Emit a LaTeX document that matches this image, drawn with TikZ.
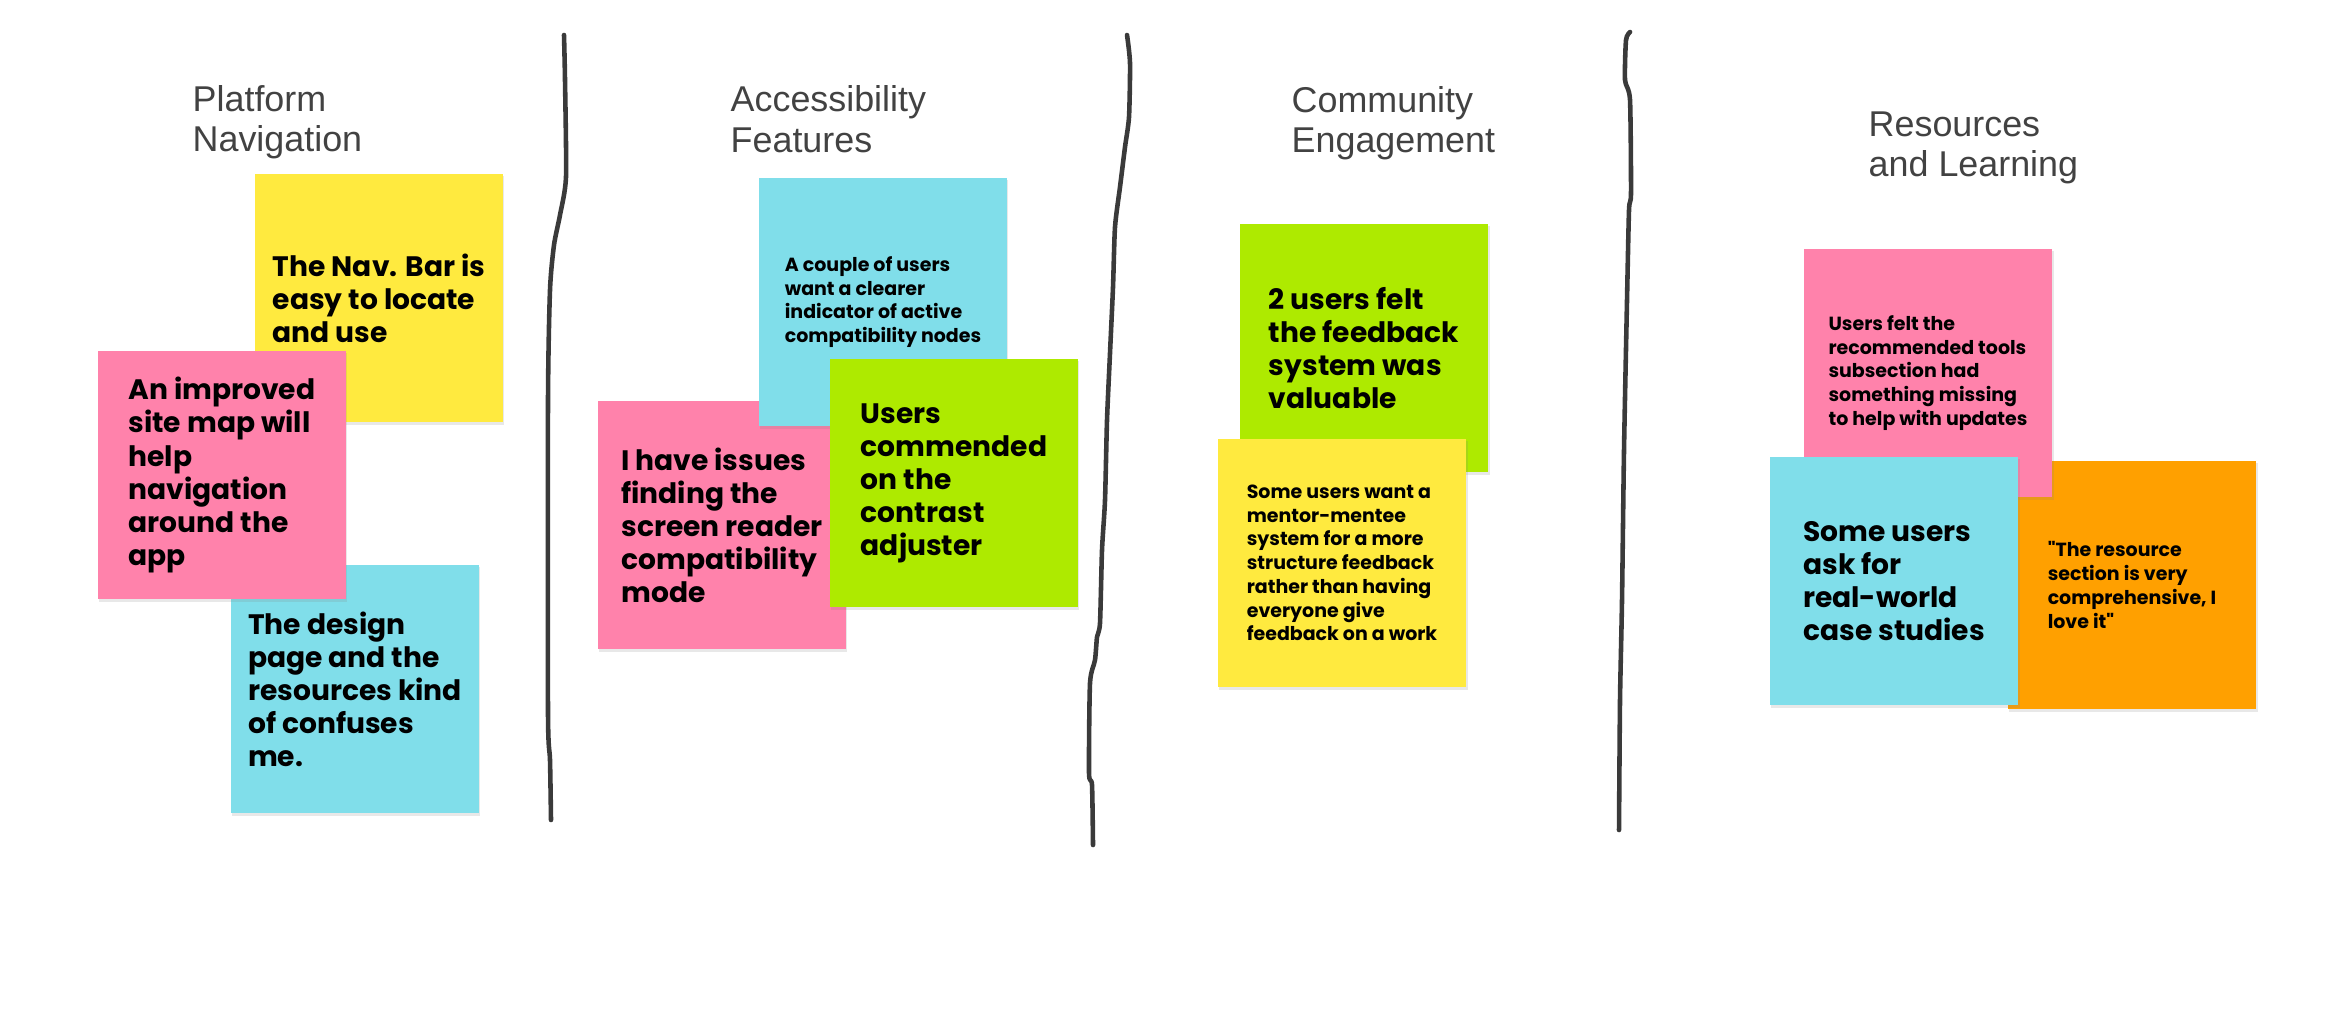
\documentclass[tikz,border=0pt]{standalone}
\usepackage{fontspec}
\setmainfont{Liberation Sans}
\newfontfamily\notefont{Poppins}
\usetikzlibrary{shadows}
\definecolor{noteyellow}{HTML}{FFEA3F}
\definecolor{notepink}{HTML}{FF82AB}
\definecolor{notecyan}{HTML}{80DEEA}
\definecolor{notegreen}{HTML}{AEEA00}
\definecolor{noteorange}{HTML}{FFA000}
\definecolor{titlegray}{HTML}{424242}
\definecolor{pengray}{HTML}{3A3A3A}
\tikzset{
  note/.style={minimum width=2.48cm,minimum height=2.48cm,inner sep=0pt,
    align=left,text=black,
    drop shadow={opacity=0.18,shadow xshift=0.4pt,shadow yshift=-0.7pt}},
  bigtext/.style={font={\notefont\bfseries\fontsize{8}{9.4}\selectfont}},
  smalltext/.style={font={\notefont\bfseries\fontsize{5.4}{6.75}\selectfont}},
  divider/.style={draw=pengray,line width=1.3pt,line cap=round,line join=round}
}
\begin{document}
\begin{tikzpicture}[x=0.01cm,y=-0.01cm,
  heading/.style={anchor=west,align=left,inner sep=0pt,text=titlegray,
    font={\fontsize{10.2}{11.5}\selectfont}}
]
  \useasboundingbox (0,0) rectangle (2340,1030);
  \node[heading] (navtitle) at (192,122) {Platform\\Navigation};
  \node[heading] (accesstitle) at (730,119) {Accessibility\\Features};
  \node[heading] (communitytitle) at (1291,123) {Community\\Engagement};
  \node[heading] (resourcetitle) at (1868,148) {Resources\\and Learning};
  \draw[divider] plot[smooth,tension=0.4] coordinates {(564,35) (565,80) (566,177)
    (560,215) (554,245) (550,290) (548,400) (548,713) (550,760) (551,820)};
  \draw[divider] plot[smooth,tension=0.4] coordinates {(1127,35) (1130,63) (1129,117)
    (1125,147) (1120,187) (1115,227) (1113,287) (1110,353) (1107,420) (1105,500)
    (1102,550) (1100,623) (1097,637) (1095,660) (1090,683) (1089,773) (1092,785)
    (1093,845)};
  \draw[divider] plot[smooth,tension=0.4] coordinates {(1630,32) (1626,40) (1625,80)
    (1630,100) (1631,193) (1629,210) (1627,300) (1624,450) (1622,600) (1620,700)
    (1619,830)};
  \node[note,bigtext,fill=noteyellow] (navbar) at (379,298)
    {The Nav. Bar is\\easy to locate\\and use};
  \node[note,bigtext,fill=notecyan] (designpage) at (355,689)
    {The design\\page and the\\resources kind\\of confuses\\me.};
  \node[note,bigtext,fill=notepink] (sitemap) at (222,475)
    {An improved\\site map will\\help\\navigation\\around the\\app};
  \node[note,bigtext,fill=notepink] (screenreader) at (722,525)
    {I have issues\\finding the\\screen reader\\compatibility\\mode};
  \node[note,smalltext,fill=notecyan] (indicator) at (883,302)
    {A couple of users\\want a clearer\\indicator of active\\compatibility nodes};
  \node[note,bigtext,fill=notegreen] (contrast) at (954,483)
    {Users\\commended\\on the\\contrast\\adjuster};
  \node[note,bigtext,fill=notegreen] (feedback) at (1364,348)
    {2 users felt\\the feedback\\system was\\valuable};
  \node[note,smalltext,fill=noteyellow] (mentor) at (1342,563)
    {Some users want a\\mentor-mentee\\system for a more\\structure feedback\\rather than having\\everyone give\\feedback on a work};
  \node[note,smalltext,fill=noteorange] (resource) at (2132,585)
    {"The resource\\section is very\\comprehensive, I\\love it"};
  \node[note,smalltext,fill=notepink] (tools) at (1928,373)
    {Users felt the\\recommended tools\\subsection had\\something missing\\to help with updates};
  \node[note,bigtext,fill=notecyan] (casestudies) at (1894,581)
    {Some users\\ask for\\real-world\\case studies};
\end{tikzpicture}
\end{document}
